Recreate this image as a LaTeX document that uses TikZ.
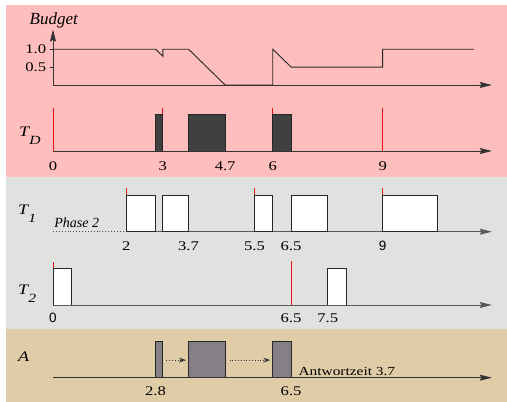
\documentclass[tikz,border=0pt]{standalone}
\usepackage{fontspec}
\setmainfont{Liberation Serif}
\newfontfamily\stretchfont[FakeStretch=1.25]{Liberation Serif}
\newfontfamily\sansnum{Liberation Sans}
\usetikzlibrary{arrows.meta}
\definecolor{pinkbg}{RGB}{255,190,190}
\definecolor{graybg}{RGB}{223,226,223}
\definecolor{beigebg}{RGB}{224,205,168}
\definecolor{darkbox}{RGB}{64,64,64}
\definecolor{abox}{RGB}{134,128,134}
\definecolor{redline}{RGB}{230,20,20}
\tikzset{
  axisline/.style={line width=0.9pt, black!80, -{Stealth[length=12pt,width=6pt,inset=1.5pt]}},
  curve/.style={line width=0.9pt, black!85},
  redmark/.style={line width=0.9pt, redline},
  dbox/.style={draw=black!85, line width=0.9pt, fill=darkbox},
  wbox/.style={draw=black!85, line width=0.9pt, fill=white},
  gbox/.style={draw=black!85, line width=0.9pt, fill=abox},
  numlab/.style={font=\stretchfont\fontsize{13.3}{15}\selectfont, inner sep=0pt},
  tlab/.style={font=\stretchfont\fontsize{14.5}{16}\selectfont\itshape, anchor=base west, inner sep=0pt},
  dotarrow/.style={dotted, line width=0.8pt, black!80, -{Stealth[length=7pt,width=5pt,open]}}
}
\newcommand{\tsub}[2]{#1\raisebox{-7.5pt}{\fontsize{12.5}{13}\selectfont #2}}
\begin{document}
\begin{tikzpicture}[x=1pt,y=-1pt]
\useasboundingbox (0,0) rectangle (507,402);
\fill[pinkbg] (6,5) rectangle (507,177);
\fill[graybg] (6,177) rectangle (507,329);
\fill[beigebg] (6,329) rectangle (507,402);

% ---------- Budget ----------
\begin{scope}[shift={(53,85)}, x=36.63pt, y=35.8pt]
  \draw[axisline] (0,0) -- (11.98,0);
  \draw[axisline] (0,0) -- (0,1.55);
  \draw[curve] (-0.08,1) -- (0,1);
  \draw[curve] (-0.08,0.5) -- (0,0.5);
  \node[numlab, anchor=east] (b10) at (-0.18,1) {1.0};
  \node[numlab, anchor=east] (b05) at (-0.18,0.5) {0.5};
  \node[font=\fontsize{17}{18}\selectfont\itshape, anchor=base, inner sep=0pt] (budget) at (0.02,1.70) {Budget};
  \draw[curve] (0,1) -- (2.8,1) -- (3,0.8) -- (3,1) -- (3.7,1) -- (4.7,0) -- (6,0) -- (6,1) -- (6.5,0.5) -- (9,0.5) -- (9,1) -- (11.5,1);
\end{scope}

% ---------- T_D ----------
\node[tlab] (td) at (19,136.7) {\tsub{T}{D}};
\begin{scope}[shift={(53,151)}, x=36.63pt, y=36.63pt]
  \foreach \t in {0,3,6,9} \draw[redmark] (\t,0) -- (\t,1.18);
  \draw[dbox] (2.8,0) rectangle (3,1);
  \draw[dbox] (3.7,0) rectangle (4.7,1);
  \draw[dbox] (6,0) rectangle (6.5,1);
  \draw[axisline] (0,0) -- (11.98,0);
  \foreach \t/\l in {0/0,3/3,4.7/4.7,6/6,9/9}
    \node[numlab] (td\l) at (\t,-0.42) {\l};
\end{scope}

% ---------- T_1 ----------
\node[tlab] (t1) at (18,214.5) {\tsub{T}{1}};
\begin{scope}[shift={(53,231.7)}, x=36.63pt, y=36.63pt]
  \draw[dotted, line width=0.9pt, black!70] (0,0) -- (2,0);
  \draw[axisline, black!65] (2,0) -- (11.98,0);
  \foreach \t in {2,5.5,9} \draw[redmark] (\t,1) -- (\t,1.18);
  \draw[wbox] (2,0) rectangle (2.8,1);
  \draw[wbox] (3,0) rectangle (3.7,1);
  \draw[wbox] (5.5,0) rectangle (6,1);
  \draw[wbox] (6.5,0) rectangle (7.5,1);
  \draw[wbox] (9,0) rectangle (10.5,1);
  \node[font=\fontsize{14}{16}\selectfont\itshape, anchor=base west, inner sep=0pt] (ph) at (0.03,0.12) {Phase 2};
  \foreach \t/\l in {2/2,3.7/3.7,5.5/5.5,6.5/6.5}
    \node[numlab] (t1\l) at (\t,-0.39) {\l};
  \node[font=\sansnum\fontsize{13.5}{15}\selectfont, inner sep=0pt] (t19) at (9,-0.39) {9};
\end{scope}

% ---------- T_2 ----------
\node[tlab] (t2) at (18,294.5) {\tsub{T}{2}};
\begin{scope}[shift={(53,305)}, x=36.63pt, y=36.63pt]
  \draw[redmark] (0,1) -- (0,1.18);
  \draw[redmark] (6.5,0) -- (6.5,1.2);
  \draw[wbox] (0,0) rectangle (0.5,1);
  \draw[wbox] (7.5,0) rectangle (8,1);
  \draw[axisline, black!65] (0,0) -- (11.98,0);
  \node[font=\sansnum\fontsize{13.5}{15}\selectfont, inner sep=0pt] (t20) at (0,-0.36) {0};
  \foreach \t/\l in {6.5/6.5,7.5/7.5}
    \node[numlab] (t2\l) at (\t,-0.36) {\l};
\end{scope}

% ---------- A ----------
\node[tlab] (a) at (18,361) {A};
\begin{scope}[shift={(53,377.7)}, x=36.63pt, y=36.63pt]
  \draw[gbox] (2.8,0) rectangle (3,1);
  \draw[gbox] (3.7,0) rectangle (4.7,1);
  \draw[gbox] (6,0) rectangle (6.5,1);
  \draw[axisline] (0,0) -- (11.98,0);
  \coordinate (a1r) at (3,0.48);
  \coordinate (a2l) at (3.7,0.48);
  \coordinate (a2r) at (4.7,0.48);
  \coordinate (a3l) at (6,0.48);
  \draw[dotarrow] ([xshift=3.5pt]a1r) -- ([xshift=-2.5pt]a2l);
  \draw[dotarrow] ([xshift=4.5pt]a2r) -- ([xshift=-2.5pt]a3l);
  \node[numlab] (a28) at (2.8,-0.36) {2.8};
  \node[numlab] (a65) at (6.5,-0.36) {6.5};
  \node[font=\stretchfont\fontsize{12.3}{14}\selectfont, anchor=base west, inner sep=0pt] (aw) at (6.7,0.07) {Antwortzeit 3.7};
\end{scope}
\end{tikzpicture}
\end{document}
